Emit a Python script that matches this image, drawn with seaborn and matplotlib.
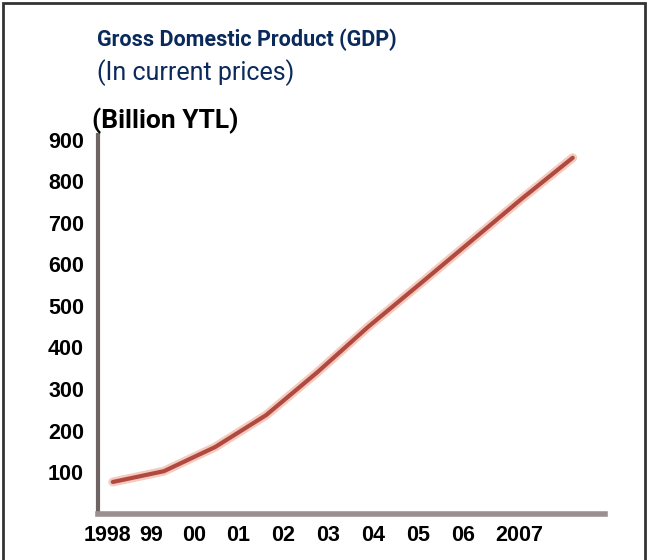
import matplotlib
matplotlib.use("Agg")
import matplotlib.pyplot as plt
import matplotlib.patches as mpatches
import seaborn as sns
import pandas as pd

# GDP, billion YTL
years = [1998, 1999, 2000, 2001, 2002, 2003, 2004, 2005, 2006, 2007]
gdp = [76, 102, 160, 237, 340, 450, 552, 655, 758, 857]

year_labels = ["1998", "99", "00", "01", "02", "03", "04", "05", "06", "2007"]
label_pos = [1997.90, 1998.74, 1999.60, 2000.45, 2001.33, 2002.21, 2003.09, 2003.97, 2004.85, 2005.95]
tick_pos = [1998.51, 1999.37, 2000.23, 2001.13, 2002.03, 2002.89, 2003.75, 2004.59, 2005.48, 2006.36]
y_ticks = [100, 200, 300, 400, 500, 600, 700, 800, 900]

NAVY = "#0b2a5c"
LINE = "#b04a40"
GLOW = "#f2b4a4"
NARROW = ["Roboto", "DejaVu Sans"]

sns.set_style("white")
plt.rcParams["font.family"] = ["Liberation Sans", "DejaVu Sans"]

df = pd.DataFrame({"year": years, "gdp": gdp})

fig = plt.figure(figsize=(6.49, 5.60), dpi=100)
ax = fig.add_axes([0.151, 0.083, 0.781, 0.676])

sns.lineplot(data=df, x="year", y="gdp", ax=ax, color=GLOW, linewidth=6.5, alpha=0.7)
sns.lineplot(data=df, x="year", y="gdp", ax=ax, color=LINE, linewidth=3)

ax.set_xlim(1997.71, 2007.63)
ax.set_ylim(0, 912)
ax.set_xlabel("")
ax.set_ylabel("")

# tick marks and tick labels sit at slightly different spots in the original
ax.set_xticks(tick_pos)
ax.set_xticklabels([])
ax.set_xticks(label_pos, minor=True)
ax.set_xticklabels(year_labels, minor=True, fontsize=15.5, fontweight="bold", color="black")
ax.tick_params(axis="x", which="major", direction="inout", length=6, width=2.5, color="#6e6464")
ax.tick_params(axis="x", which="minor", length=0, pad=8)

ax.set_yticks(y_ticks)
ax.set_yticklabels([str(v) for v in y_ticks], fontsize=15.5, fontweight="bold", color="black")
ax.tick_params(axis="y", direction="out", length=3, width=3, color="#6e6464", pad=7)

for side in ["top", "right"]:
    ax.spines[side].set_visible(False)
ax.spines["left"].set_color("#6e6464")
ax.spines["left"].set_linewidth(3)
ax.spines["bottom"].set_color("#9a9090")
ax.spines["bottom"].set_linewidth(4)

fig.text(97 / 649, 1 - 40 / 560, "Gross Domestic Product (GDP)", color=NAVY,
         fontsize=15.5, fontweight="bold", family=NARROW, va="center", ha="left")
fig.text(97 / 649, 1 - 73 / 560, "(In current prices)", color=NAVY,
         fontsize=18, family=NARROW, va="center", ha="left")
fig.text(92 / 649, 1 - 121 / 560, "(Billion YTL)", color="black",
         fontsize=19, fontweight="bold", family=NARROW, va="center", ha="left")

# frame round the picture (bottom edge runs off the image)
fig.patches.append(mpatches.Rectangle((3 / 649, -0.1), 642 / 649, 1.1 - 3 / 560,
                                      transform=fig.transFigure, fill=False,
                                      edgecolor="#333333", linewidth=2))

fig.savefig("out.png", dpi=100)
